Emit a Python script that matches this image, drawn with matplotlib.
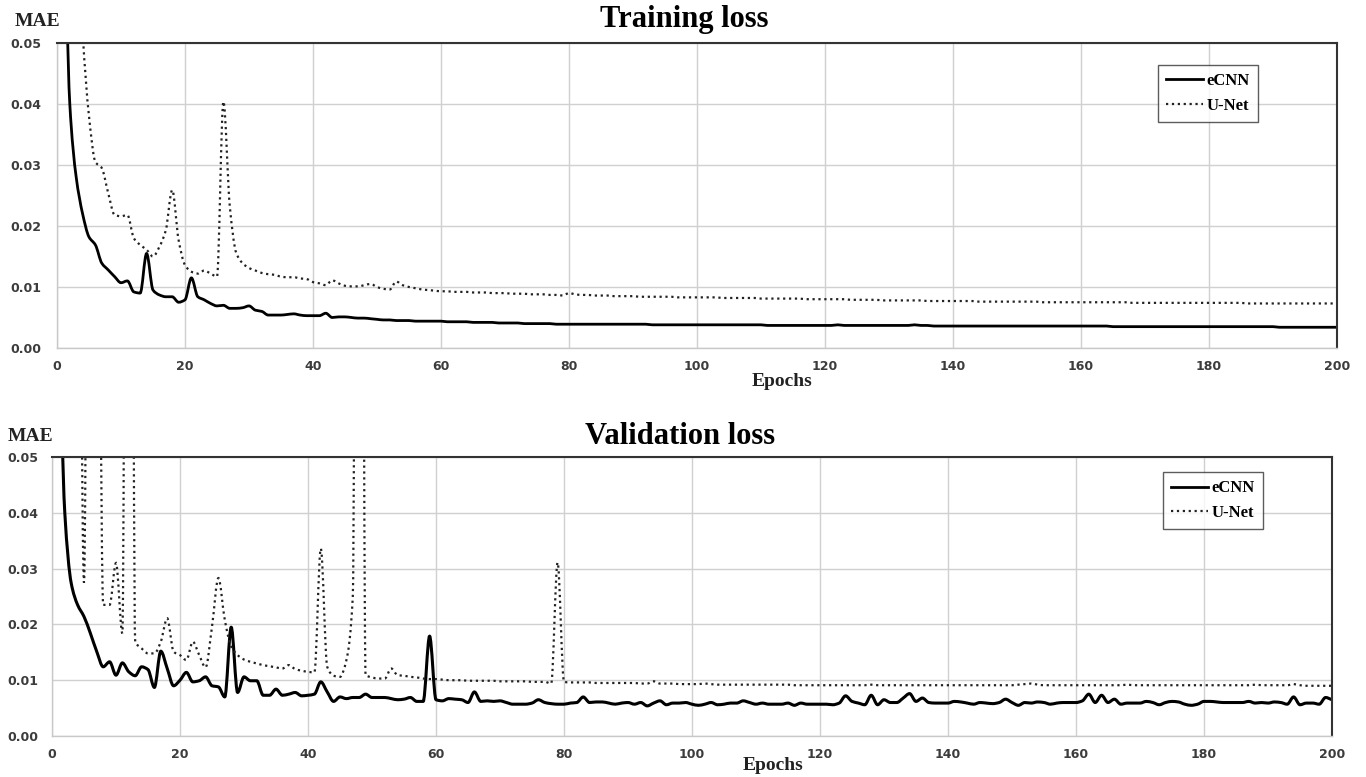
import numpy as np
import matplotlib
matplotlib.use("Agg")
from matplotlib import pyplot as plt
from matplotlib.path import Path
from matplotlib.patches import PathPatch
from matplotlib.lines import Line2D

# epochs 1..200
epochs = np.arange(1, 201)

train_ecnn = [
    0.080, 0.040, 0.028, 0.022, 0.0182, 0.0169, 0.0139, 0.0128, 0.0117, 0.0107,
    0.0110, 0.0092, 0.0090, 0.0155, 0.0095, 0.0087, 0.0084, 0.0084, 0.0075, 0.0079,
    0.0115, 0.0084, 0.0079, 0.0073, 0.0069, 0.0070, 0.0065, 0.0065, 0.0066, 0.0069,
    0.0062, 0.0060, 0.0054, 0.0054, 0.0054, 0.0055, 0.0056, 0.0054, 0.0053, 0.0053,
    0.0053, 0.0057, 0.0050, 0.0051, 0.0051, 0.0050, 0.0049, 0.0049, 0.0048, 0.0047,
    0.0046, 0.0046, 0.0045, 0.0045, 0.0045, 0.0044, 0.0044, 0.0044, 0.0044, 0.0044,
    0.0043, 0.0043, 0.0043, 0.0043, 0.0042, 0.0042, 0.0042, 0.0042, 0.0041, 0.0041,
    0.0041, 0.0041, 0.0040, 0.0040, 0.0040, 0.0040, 0.0040, 0.0039, 0.0039, 0.0039,
    0.0039, 0.0039, 0.0039, 0.0039, 0.0039, 0.0039, 0.0039, 0.0039, 0.0039, 0.0039,
    0.0039, 0.0039, 0.0038, 0.0038, 0.0038, 0.0038, 0.0038, 0.0038, 0.0038, 0.0038,
    0.0038, 0.0038, 0.0038, 0.0038, 0.0038, 0.0038, 0.0038, 0.0038, 0.0038, 0.0038,
    0.0037, 0.0037, 0.0037, 0.0037, 0.0037, 0.0037, 0.0037, 0.0037, 0.0037, 0.0037,
    0.0037, 0.0038, 0.0037, 0.0037, 0.0037, 0.0037, 0.0037, 0.0037, 0.0037, 0.0037,
    0.0037, 0.0037, 0.0037, 0.0038, 0.0037, 0.0037, 0.0036, 0.0036, 0.0036, 0.0036,
    0.0036, 0.0036, 0.0036, 0.0036, 0.0036, 0.0036, 0.0036, 0.0036, 0.0036, 0.0036,
    0.0036, 0.0036, 0.0036, 0.0036, 0.0036, 0.0036, 0.0036, 0.0036, 0.0036, 0.0036,
    0.0036, 0.0036, 0.0036, 0.0036, 0.0035, 0.0035, 0.0035, 0.0035, 0.0035, 0.0035,
    0.0035, 0.0035, 0.0035, 0.0035, 0.0035, 0.0035, 0.0035, 0.0035, 0.0035, 0.0035,
    0.0035, 0.0035, 0.0035, 0.0035, 0.0035, 0.0035, 0.0035, 0.0035, 0.0035, 0.0035,
    0.0034, 0.0034, 0.0034, 0.0034, 0.0034, 0.0034, 0.0034, 0.0034, 0.0034, 0.0034,
]

train_unet = [
    0.200, 0.120, 0.080, 0.052, 0.038, 0.0305, 0.0295, 0.0254, 0.0218, 0.0216,
    0.0218, 0.0180, 0.0169, 0.0161, 0.0150, 0.0166, 0.0193, 0.0259, 0.0177, 0.0136,
    0.0125, 0.0122, 0.0127, 0.0122, 0.0117, 0.0404, 0.0232, 0.0156, 0.0139, 0.0131,
    0.0127, 0.0123, 0.0121, 0.0120, 0.0117, 0.0116, 0.0116, 0.0114, 0.0113, 0.0108,
    0.0106, 0.0103, 0.0111, 0.0106, 0.0102, 0.0101, 0.0101, 0.0103, 0.0105, 0.0100,
    0.0097, 0.0096, 0.0109, 0.0103, 0.0100, 0.0098, 0.0096, 0.0095, 0.0094, 0.0093,
    0.0093, 0.0092, 0.0092, 0.0092, 0.0091, 0.0091, 0.0091, 0.0090, 0.0090, 0.0090,
    0.0089, 0.0089, 0.0089, 0.0088, 0.0088, 0.0088, 0.0087, 0.0087, 0.0086, 0.0090,
    0.0088, 0.0087, 0.0087, 0.0086, 0.0086, 0.0086, 0.0085, 0.0085, 0.0085, 0.0085,
    0.0084, 0.0084, 0.0084, 0.0084, 0.0084, 0.0084, 0.0083, 0.0083, 0.0083, 0.0083,
    0.0083, 0.0083, 0.0083, 0.0082, 0.0082, 0.0082, 0.0082, 0.0082, 0.0082, 0.0081,
    0.0081, 0.0081, 0.0081, 0.0081, 0.0081, 0.0081, 0.0080, 0.0080, 0.0080, 0.0080,
    0.0080, 0.0080, 0.0080, 0.0079, 0.0079, 0.0079, 0.0079, 0.0079, 0.0078, 0.0078,
    0.0078, 0.0078, 0.0078, 0.0078, 0.0078, 0.0077, 0.0077, 0.0077, 0.0077, 0.0077,
    0.0077, 0.0077, 0.0077, 0.0076, 0.0076, 0.0076, 0.0076, 0.0076, 0.0076, 0.0076,
    0.0076, 0.0076, 0.0076, 0.0075, 0.0075, 0.0075, 0.0075, 0.0075, 0.0075, 0.0075,
    0.0075, 0.0075, 0.0075, 0.0075, 0.0075, 0.0075, 0.0075, 0.0074, 0.0074, 0.0074,
    0.0074, 0.0074, 0.0074, 0.0074, 0.0074, 0.0074, 0.0074, 0.0074, 0.0074, 0.0074,
    0.0074, 0.0074, 0.0074, 0.0074, 0.0074, 0.0073, 0.0073, 0.0073, 0.0073, 0.0073,
    0.0073, 0.0073, 0.0073, 0.0073, 0.0073, 0.0073, 0.0073, 0.0073, 0.0073, 0.0073,
]

val_ecnn = [
    0.080, 0.040, 0.0274, 0.0235, 0.0214, 0.0184, 0.0151, 0.0124, 0.0133, 0.0109,
    0.0131, 0.0115, 0.0108, 0.0124, 0.0119, 0.0087, 0.0152, 0.0121, 0.0090, 0.0100,
    0.0114, 0.0097, 0.0099, 0.0106, 0.0090, 0.0088, 0.0070, 0.0195, 0.0078, 0.0106,
    0.0099, 0.0099, 0.0073, 0.0073, 0.0084, 0.0073, 0.0075, 0.0078, 0.0072, 0.0073,
    0.0075, 0.0097, 0.0079, 0.0062, 0.0070, 0.0067, 0.0069, 0.0069, 0.0075, 0.0069,
    0.0069, 0.0069, 0.0067, 0.0065, 0.0066, 0.0069, 0.0062, 0.0062, 0.0179, 0.0065,
    0.0063, 0.0067, 0.0066, 0.0065, 0.0060, 0.0079, 0.0062, 0.0063, 0.0062, 0.0063,
    0.0060, 0.0057, 0.0057, 0.0057, 0.0059, 0.0065, 0.0060, 0.0058, 0.0057, 0.0057,
    0.0059, 0.0060, 0.0070, 0.0060, 0.0061, 0.0061, 0.0059, 0.0057, 0.0059, 0.0060,
    0.0057, 0.0060, 0.0054, 0.0059, 0.0063, 0.0056, 0.0059, 0.0059, 0.0060, 0.0057,
    0.0055, 0.0057, 0.0060, 0.0056, 0.0057, 0.0059, 0.0059, 0.0063, 0.0060, 0.0057,
    0.0059, 0.0057, 0.0057, 0.0057, 0.0059, 0.0055, 0.0059, 0.0057, 0.0057, 0.0057,
    0.0057, 0.0056, 0.0059, 0.0072, 0.0062, 0.0059, 0.0056, 0.0073, 0.0056, 0.0065,
    0.0060, 0.0060, 0.0068, 0.0076, 0.0062, 0.0068, 0.0060, 0.0059, 0.0059, 0.0059,
    0.0062, 0.0061, 0.0059, 0.0057, 0.0060, 0.0059, 0.0058, 0.0060, 0.0066, 0.0060,
    0.0055, 0.0060, 0.0059, 0.0061, 0.0060, 0.0057, 0.0059, 0.0060, 0.0060, 0.0060,
    0.0063, 0.0075, 0.0060, 0.0073, 0.0060, 0.0066, 0.0057, 0.0059, 0.0059, 0.0059,
    0.0062, 0.0060, 0.0056, 0.0060, 0.0062, 0.0061, 0.0057, 0.0055, 0.0057, 0.0062,
    0.0062, 0.0061, 0.0060, 0.0060, 0.0060, 0.0060, 0.0062, 0.0059, 0.0060, 0.0059,
    0.0061, 0.0060, 0.0057, 0.0070, 0.0056, 0.0059, 0.0059, 0.0057, 0.0069, 0.0065,
]

val_unet = [
    0.300, 0.250, 0.200, 0.150, 0.0275, 0.200, 0.150, 0.0235, 0.0235, 0.0310,
    0.0184, 0.300, 0.0169, 0.0157, 0.0148, 0.0148, 0.0169, 0.0211, 0.0151, 0.0145,
    0.0136, 0.0169, 0.0145, 0.0123, 0.0196, 0.0283, 0.0208, 0.0160, 0.0145, 0.0137,
    0.0133, 0.0130, 0.0127, 0.0125, 0.0123, 0.0121, 0.0127, 0.0120, 0.0117, 0.0115,
    0.0114, 0.0336, 0.0124, 0.0108, 0.0106, 0.0136, 0.0250, 0.300, 0.0109, 0.0105,
    0.0103, 0.0103, 0.0121, 0.0109, 0.0108, 0.0106, 0.0105, 0.0103, 0.0102, 0.0102,
    0.0101, 0.0100, 0.0100, 0.0100, 0.0099, 0.0099, 0.0099, 0.0099, 0.0099, 0.0098,
    0.0098, 0.0098, 0.0098, 0.0098, 0.0097, 0.0097, 0.0097, 0.0094, 0.0311, 0.0097,
    0.0096, 0.0096, 0.0096, 0.0096, 0.0095, 0.0095, 0.0095, 0.0095, 0.0095, 0.0095,
    0.0095, 0.0094, 0.0094, 0.0098, 0.0094, 0.0094, 0.0094, 0.0093, 0.0093, 0.0093,
    0.0093, 0.0094, 0.0093, 0.0092, 0.0092, 0.0092, 0.0092, 0.0092, 0.0092, 0.0092,
    0.0092, 0.0092, 0.0092, 0.0092, 0.0092, 0.0091, 0.0091, 0.0091, 0.0091, 0.0091,
    0.0091, 0.0091, 0.0091, 0.0091, 0.0091, 0.0091, 0.0091, 0.0092, 0.0091, 0.0091,
    0.0091, 0.0091, 0.0091, 0.0091, 0.0091, 0.0091, 0.0091, 0.0091, 0.0091, 0.0091,
    0.0091, 0.0091, 0.0091, 0.0091, 0.0091, 0.0091, 0.0091, 0.0091, 0.0091, 0.0091,
    0.0092, 0.0093, 0.0094, 0.0092, 0.0091, 0.0091, 0.0091, 0.0091, 0.0091, 0.0091,
    0.0091, 0.0091, 0.0091, 0.0091, 0.0091, 0.0091, 0.0091, 0.0092, 0.0091, 0.0091,
    0.0091, 0.0091, 0.0091, 0.0091, 0.0091, 0.0091, 0.0091, 0.0091, 0.0091, 0.0091,
    0.0091, 0.0091, 0.0091, 0.0091, 0.0091, 0.0091, 0.0091, 0.0092, 0.0091, 0.0091,
    0.0091, 0.0091, 0.0091, 0.0093, 0.0091, 0.0090, 0.0090, 0.0090, 0.0090, 0.0090,
]

xticks = list(range(0, 201, 20))
yticks = [0.00, 0.01, 0.02, 0.03, 0.04, 0.05]
ytick_labels = ["0.00", "0.01", "0.02", "0.03", "0.04", "0.05"]

SERIF = "Liberation Serif"
TICK_COLOR = "#3c3c3c"
GRID_COLOR = "#d0d0d0"


def smooth_path(x, y):
    # smoothed line like the spreadsheet's: cubic bezier through every point,
    # monotone tangents so the curve does not overshoot
    x = np.asarray(x, dtype=float)
    y = np.asarray(y, dtype=float)
    d = np.diff(y) / np.diff(x)
    m = np.zeros_like(y)
    m[0] = d[0]
    m[-1] = d[-1]
    for i in range(1, len(y) - 1):
        if d[i - 1] * d[i] > 0:
            m[i] = 2.0 / (1.0 / d[i - 1] + 1.0 / d[i])
    verts = [(x[0], y[0])]
    codes = [Path.MOVETO]
    for i in range(len(x) - 1):
        h = x[i + 1] - x[i]
        verts.append((x[i] + h / 3, y[i] + m[i] * h / 3))
        verts.append((x[i + 1] - h / 3, y[i + 1] - m[i + 1] * h / 3))
        verts.append((x[i + 1], y[i + 1]))
        codes += [Path.CURVE4] * 3
    return Path(verts, codes)


fig = plt.figure(figsize=(13.66, 7.77), dpi=100)
ax1 = fig.add_axes([57 / 1366, 1 - 348 / 777, 1280 / 1366, 305 / 777])
ax2 = fig.add_axes([52 / 1366, 1 - 736 / 777, 1280 / 1366, 279 / 777])


def style_axes(ax, ypad):
    ax.set_xlim(0, 200)
    ax.set_ylim(0, 0.05)
    ax.set_xticks(xticks)
    ax.set_yticks(yticks)
    ax.set_yticklabels(ytick_labels)
    ax.grid(True, color=GRID_COLOR, linewidth=1.0)
    ax.set_axisbelow(True)
    ax.tick_params(length=0, labelsize=9, labelcolor=TICK_COLOR)
    ax.tick_params(axis="y", pad=ypad)
    ax.tick_params(axis="x", pad=9)
    for lab in ax.get_xticklabels() + ax.get_yticklabels():
        lab.set_fontweight("bold")
    for side in ["left", "bottom"]:
        ax.spines[side].set_color("#c8c8c8")
        ax.spines[side].set_linewidth(1.0)
    for side in ["top", "right"]:
        ax.spines[side].set_color("#333333")
        ax.spines[side].set_linewidth(1.5)


style_axes(ax1, 11)
style_axes(ax2, 10)

ecnn_style = dict(color="black", linestyle="-")
unet_style = dict(color="#222222", linestyle=":")

for ax, ecnn, unet, lw in [(ax1, train_ecnn, train_unet, 2.0),
                           (ax2, val_ecnn, val_unet, 2.2)]:
    ax.add_patch(PathPatch(smooth_path(epochs, ecnn), facecolor="none",
                           edgecolor="black", linewidth=lw, joinstyle="round"))
    ax.add_patch(PathPatch(smooth_path(epochs, unet), facecolor="none",
                           edgecolor="#222222", linewidth=1.6, linestyle=":"))

handles = [Line2D([], [], linewidth=2.0, **ecnn_style),
           Line2D([], [], linewidth=1.6, **unet_style)]
labels = ["eCNN", "U-Net"]

leg_font = {"family": SERIF, "weight": "bold", "size": 12}
for ax, anchor in [(ax1, (0.86, 0.928)), (ax2, (0.868, 0.946))]:
    leg = ax.legend(handles, labels, loc="upper left", bbox_to_anchor=anchor,
                    prop=leg_font, frameon=True, fancybox=False,
                    handlelength=2.2, handletextpad=0.2, borderpad=0.5,
                    labelspacing=0.5, borderaxespad=0)
    leg.get_frame().set_edgecolor("#333333")
    leg.get_frame().set_linewidth(1.0)

fig.text(684 / 1366, 1 - 19 / 777, "Training loss", ha="center", va="center",
         family=SERIF, weight="bold", fontsize=22)
fig.text(680 / 1366, 1 - 436 / 777, "Validation loss", ha="center", va="center",
         family=SERIF, weight="bold", fontsize=22)
fig.text(37 / 1366, 1 - 21 / 777, "MAE", ha="center", va="center",
         family=SERIF, weight="bold", fontsize=14, color="#222222")
fig.text(30 / 1366, 1 - 437 / 777, "MAE", ha="center", va="center",
         family=SERIF, weight="bold", fontsize=14, color="#222222")
fig.text(782 / 1366, 1 - 381 / 777, "Epochs", ha="center", va="center",
         family=SERIF, weight="bold", fontsize=14, color="#222222")
fig.text(773 / 1366, 1 - 766 / 777, "Epochs", ha="center", va="center",
         family=SERIF, weight="bold", fontsize=14, color="#222222")

fig.savefig("out.png", dpi=100)
